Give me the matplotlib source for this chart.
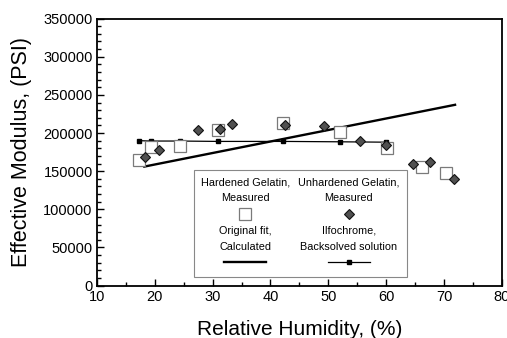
import matplotlib
matplotlib.use("Agg")
import matplotlib.pyplot as plt
from matplotlib.lines import Line2D
from matplotlib.offsetbox import (
    AnchoredOffsetbox,
    DrawingArea,
    HPacker,
    TextArea,
    VPacker,
)
from matplotlib.ticker import MultipleLocator

plt.rcParams["font.family"] = ["Liberation Sans", "DejaVu Sans"]

# Hardened gelatin, measured
hard_rh = [17.2, 19.3, 24.3, 31.0, 42.2, 52.0, 60.2, 66.2, 70.4]
hard_mod = [164000, 182000, 183000, 204500, 213000, 201000, 181000, 156000, 147000]

# Unhardened gelatin, measured
unhard_rh = [18.3, 20.7, 27.4, 31.3, 33.4, 42.6, 49.2, 55.4, 59.9, 64.6, 67.6, 71.7]
unhard_mod = [168000, 177500, 204500, 205000, 212000, 210500, 208800, 190000,
              184800, 160000, 161600, 140000]

# Original fit, calculated
fit_rh = [18.2, 71.9]
fit_mod = [156000, 237000]

# Ilfochrome, backsolved solution
ilfo_rh = [17.2, 19.4, 24.3, 31.0, 42.2, 52.0, 60.0]
ilfo_mod = [190000, 189500, 189500, 189000, 189000, 188500, 188000]

labels = [
    "Hardened Gelatin,\nMeasured",
    "Unhardened Gelatin,\nMeasured",
    "Original fit,\nCalculated",
    "Ilfochrome,\nBacksolved solution",
]

fig, ax = plt.subplots(figsize=(5.07, 3.38), dpi=100)
fig.subplots_adjust(left=0.191, right=0.99, top=0.945, bottom=0.155)

sq_style = dict(ls="none", marker="s", ms=8.5, mfc="white", mec="#7a7a7a", mew=0.9)
dm_style = dict(ls="none", marker="D", ms=5.5, mfc="#505050", mec="#111111", mew=0.8)
fit_style = dict(color="black", lw=1.7)
ilfo_style = dict(color="black", lw=0.9, marker="s", ms=2.5)

ax.plot(fit_rh, fit_mod, **fit_style)
ax.plot(ilfo_rh, ilfo_mod, **ilfo_style)
ax.plot(hard_rh, hard_mod, **sq_style)
ax.plot(unhard_rh, unhard_mod, **dm_style)

ax.set_xlim(10, 80)
ax.set_ylim(0, 350000)
ax.xaxis.set_major_locator(MultipleLocator(10))
ax.xaxis.set_minor_locator(MultipleLocator(5))
ax.yaxis.set_major_locator(MultipleLocator(50000))
ax.yaxis.set_minor_locator(MultipleLocator(10000))
ax.tick_params(which="both", direction="in", top=False, right=False,
               labelsize=10.5, width=1.0, pad=3)
ax.tick_params(which="major", length=5)
ax.tick_params(which="minor", length=3)
for s in ax.spines.values():
    s.set_linewidth(1.3)

ax.set_xlabel("Relative Humidity, (%)", fontsize=15, labelpad=12)
ax.set_ylabel("Effective Modulus, (PSI)", fontsize=15.5)
ax.yaxis.set_label_coords(-0.159, 0.5)


def entry(label, style):
    da = DrawingArea(36, 11, 0, 0)
    if style.get("ls") == "none":
        da.add_artist(Line2D([18], [5.5], **style))
    else:
        da.add_artist(Line2D([3, 33], [5.5, 5.5], **{k: v for k, v in style.items()
                                                      if k not in ("marker", "ms")}))
        if "marker" in style:
            da.add_artist(Line2D([18], [5.5], ls="none", marker=style["marker"],
                                 ms=style["ms"], color="black"))
    txt = TextArea(label, textprops=dict(fontsize=7.8, ha="center",
                                         multialignment="center", linespacing=1.75))
    return VPacker(children=[txt, da], align="center", pad=0, sep=2)


col1 = VPacker(children=[entry(labels[0], sq_style), entry(labels[2], fit_style)],
               align="center", pad=0, sep=3)
col2 = VPacker(children=[entry(labels[1], dm_style), entry(labels[3], ilfo_style)],
               align="center", pad=0, sep=3)
box = HPacker(children=[col1, col2], align="top", pad=0, sep=6)
leg = AnchoredOffsetbox(loc="lower left", child=box, pad=0.5, borderpad=0,
                        frameon=True, bbox_to_anchor=(0.239, 0.034),
                        bbox_transform=ax.transAxes)
leg.patch.set_edgecolor("#888888")
leg.patch.set_linewidth(0.8)
ax.add_artist(leg)

fig.savefig("out.png", dpi=100)
